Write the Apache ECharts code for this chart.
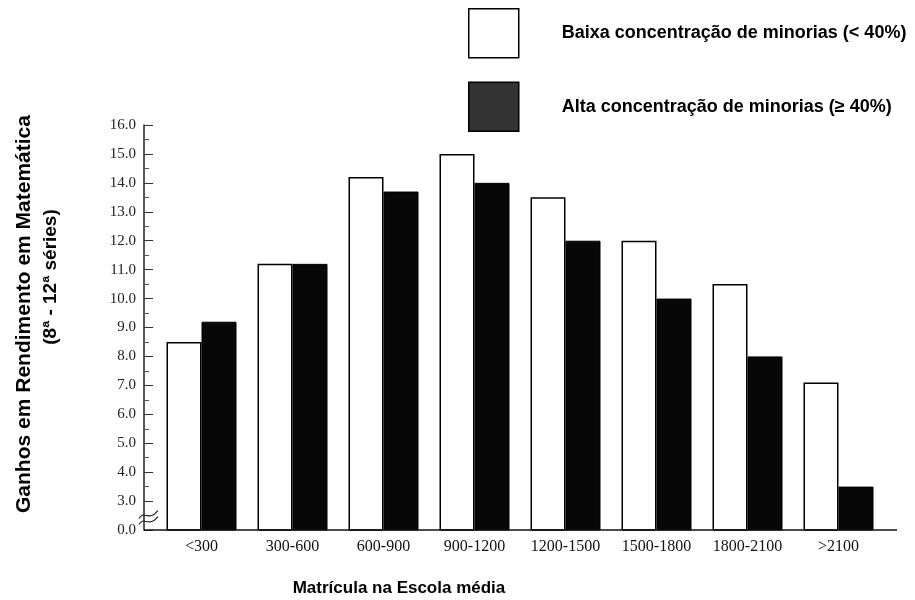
<!DOCTYPE html>
<html>
<head>
<meta charset="utf-8">
<script src="https://cdn.jsdelivr.net/npm/echarts@6/dist/echarts.min.js"></script>
<style>
  html, body { margin: 0; padding: 0; background: #fff; }
  #chart { width: 915px; height: 600px; }
</style>
</head>
<body>
<div id="chart"></div>
<script>
const categories = ['<300', '300-600', '600-900', '900-1200', '1200-1500', '1500-1800', '1800-2100', '>2100'];
const lowMinority = [8.5, 11.2, 14.2, 15.0, 13.5, 12.0, 10.5, 7.1];
const highMinority = [9.2, 11.2, 13.7, 14.0, 12.0, 10.0, 8.0, 3.5];
const seriesNames = ['Baixa concentração de minorias (< 40%)', 'Alta concentração de minorias (≥ 40%)'];
const yTitle1 = 'Ganhos em Rendimento em Matemática';
const yTitle2 = '(8ª - 12ª séries)';
const xTitle = 'Matrícula na Escola média';
const axisBreakLabel = '0.0';

const chart = echarts.init(document.getElementById('chart'), null, { renderer: 'canvas' });
const SANS = 'Liberation Sans, Arial, Helvetica, sans-serif';
const SERIF = 'Liberation Serif, Times New Roman, serif';

const option = {
  animation: false,
  backgroundColor: '#fff',
  title: {
    text: xTitle,
    left: 399,
    top: 580,
    padding: 0,
    textAlign: 'center',
    textStyle: { fontFamily: SANS, fontWeight: 'bold', fontSize: 17, color: '#000' }
  },
  legend: {
    orient: 'vertical',
    left: 468,
    top: 8,
    padding: 0,
    itemWidth: 50,
    itemHeight: 49,
    itemGap: 23,
    icon: 'rect',
    selectedMode: false,
    textStyle: { fontFamily: SANS, fontWeight: 'bold', fontSize: 18, color: '#000', padding: [0, 0, 0, 38] },
    data: [
      { name: seriesNames[0], itemStyle: { color: '#fff', borderColor: '#000', borderWidth: 1.5 } },
      { name: seriesNames[1], itemStyle: { color: '#333', borderColor: '#000', borderWidth: 1.5 } }
    ]
  },
  grid: { left: 156, right: 31, top: 125, bottom: 70, containLabel: false },
  xAxis: {
    type: 'category',
    data: categories,
    axisLine: { show: false },
    axisTick: { show: false },
    axisLabel: { fontFamily: SERIF, fontSize: 16, color: '#111', margin: 9 }
  },
  yAxis: {
    type: 'value',
    min: 2,
    max: 16,
    interval: 1,
    offset: 12,
    axisLine: { show: true, lineStyle: { color: '#222', width: 1.5 } },
    axisTick: { show: true, inside: true, length: 9, lineStyle: { color: '#333', width: 1 } },
    minorTick: { show: true, splitNumber: 2, length: 5, lineStyle: { color: '#555', width: 1 } },
    splitLine: { show: false },
    axisLabel: {
      fontFamily: SERIF, fontSize: 15, color: '#222', margin: 8,
      formatter: function (v) { return v === 2 ? axisBreakLabel : v.toFixed(1); }
    }
  },
  series: [
    {
      name: seriesNames[0],
      type: 'bar',
      data: lowMinority,
      barWidth: 35,
      barGap: '0%',
      itemStyle: { color: '#fff', borderColor: '#000', borderWidth: 1.5 }
    },
    {
      name: seriesNames[1],
      type: 'bar',
      data: highMinority,
      barWidth: 35,
      barGap: '0%',
      itemStyle: { color: '#070707', borderColor: '#000', borderWidth: 1 }
    }
  ]
};
chart.setOption(option);

// decorations: extended baseline, axis-break squiggle, y-axis titles
const y0 = chart.convertToPixel({ yAxisIndex: 0 }, 2);
const yb = chart.convertToPixel({ yAxisIndex: 0 }, 2.5);
const xStart = chart.convertToPixel({ xAxisIndex: 0 }, 0) - 45.5 - 12;
const xEnd = chart.convertToPixel({ xAxisIndex: 0 }, categories.length - 1) + 45.5 + 13;
chart.setOption({
  graphic: [
    { type: 'line', shape: { x1: xStart, y1: y0, x2: xEnd, y2: y0 }, style: { stroke: '#111', lineWidth: 1.5 }, z: 10 },
    { type: 'bezierCurve', shape: { x1: xStart - 5, y1: yb + 3, cpx1: xStart, cpy1: yb - 6, cpx2: xStart + 4, cpy2: yb + 7, x2: xStart + 14, y2: yb - 5 }, style: { stroke: '#222', lineWidth: 1.2, fill: null }, z: 10 },
    { type: 'bezierCurve', shape: { x1: xStart - 5, y1: yb + 9, cpx1: xStart, cpy1: yb, cpx2: xStart + 4, cpy2: yb + 13, x2: xStart + 14, y2: yb + 1 }, style: { stroke: '#222', lineWidth: 1.2, fill: null }, z: 10 },
    { type: 'text', x: 24, y: 314, rotation: Math.PI / 2, style: { text: yTitle1, font: 'bold 21px ' + SANS, fill: '#000', align: 'center', verticalAlign: 'middle' } },
    { type: 'text', x: 51, y: 277, rotation: Math.PI / 2, style: { text: yTitle2, font: 'bold 19px ' + SANS, fill: '#000', align: 'center', verticalAlign: 'middle' } }
  ]
});
</script>
</body>
</html>
